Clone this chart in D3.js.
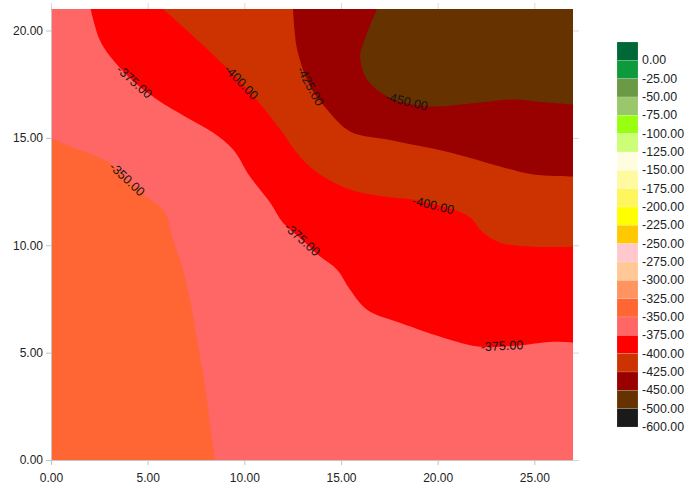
<!DOCTYPE html>
<html>
<head>
<meta charset="utf-8">
<script src="https://cdn.jsdelivr.net/npm/d3@7"></script>
<style>
  body { margin: 0; background: #fff; }
  text { font-family: Arial, "Liberation Sans", sans-serif; }
</style>
</head>
<body>
<svg id="chart" width="692" height="490"></svg>
<script>
// ---- data ----
const xDomain = [0, 27];
const yDomain = [0, 21];
const xTicks = [0, 5, 10, 15, 20, 25];
const yTicks = [0, 5, 10, 15, 20];

// legend: each box is labelled at its lower edge
const legendLevels = [0, -25, -50, -75, -100, -125, -150, -175, -200, -225, -250,
  -275, -300, -325, -350, -375, -400, -425, -450, -500, -600];
const legendColors = ["#006837", "#0c9a3c", "#6a9a46", "#9bc76c", "#99ff11", "#ccff77",
  "#fffde0", "#fffaa0", "#fff55c", "#ffff00", "#ffc800", "#ffc8cc", "#ffc896",
  "#ff9461", "#ff6633", "#ff6666", "#ff0000", "#cc3300", "#990000", "#663300", "#1a1a1a"];

// highest band present in the field (lower bound)
const topBand = -350;

// isolines, each traced from one edge of the field to another
const contourLevels = [-350, -375, -400, -425, -450];
const contour350 = [[0, 15.0], [0.98, 14.6], [2.9, 13.9], [3.98, 13.06], [5.12, 12.13],
  [5.64, 11.8], [6.0, 11.33], [6.31, 10.26], [6.78, 9.0], [7.19, 7.46], [7.55, 5.6],
  [7.92, 3.73], [8.2, 1.85], [8.48, 0]];
const contour375 = [[2.05, 21], [2.5, 19.6], [3.05, 18.8], [4.3, 17.6], [5.48, 16.79],
  [6.93, 16.0], [8.38, 15.25], [9.42, 14.46], [10.29, 13.2], [11.33, 11.99], [12.0, 11.05],
  [12.98, 10.26], [13.92, 9.47], [14.8, 8.86], [15.47, 7.93], [16.35, 7.0], [18.05, 6.39],
  [20.64, 5.6], [22.2, 5.27], [24.0, 5.32], [25.8, 5.5], [27, 5.46]];
const contour400 = [[5.8, 21], [7.7, 19.45], [9.0, 18.33], [9.83, 17.58], [10.7, 16.7],
  [11.85, 15.4], [12.9, 14.1], [13.9, 13.3], [15.47, 12.59], [17.18, 12.27], [18.7, 12.13],
  [20.8, 11.66], [21.68, 11.29], [22.35, 10.59], [23.23, 10.12], [24.94, 9.93], [27, 9.93]];
const contour425 = [[12.52, 21], [12.6, 20], [12.73, 19.12], [13.4, 17.4], [14.28, 16.32],
  [15.47, 15.3], [17.54, 14.9], [20.64, 14.32], [23.23, 13.67], [24.94, 13.29], [27, 13.2]];
const contour450 = [[16.86, 21], [16.14, 19.36], [15.99, 18.8], [16.35, 17.72],
  [17.38, 16.93], [18.4, 16.62], [19.6, 16.46], [22.19, 16.65], [23.9, 16.79],
  [25.66, 16.65], [27, 16.55]];
const contourPoints = [contour350, contour375, contour400, contour425, contour450];

// isoline labels
const labelLevels = [-375, -350, -400, -425, -450, -375, -400, -375];
const labelX = [4.3, 3.93, 9.83, 13.4, 18.4, 12.98, 19.76, 23.33];
const labelY = [17.6, 13.06, 17.58, 17.4, 16.68, 10.26, 11.85, 5.3];

// ---- layout ----
const margin = { left: 51, top: 9, right: 119, bottom: 30 };
const W = 692, H = 490;
const plotW = W - margin.left - margin.right;
const plotH = H - margin.top - margin.bottom;

const svg = d3.select("#chart");
const x = d3.scaleLinear().domain(xDomain).range([margin.left, margin.left + plotW]);
const y = d3.scaleLinear().domain(yDomain).range([margin.top + plotH, margin.top]);
// plain hyphen-minus for negative numbers
const fmt = d3.formatLocale({ decimal: ".", thousands: ",", grouping: [3],
  currency: ["", ""], minus: "-" }).format(".2f");

const colorOfBand = lvl => legendColors[legendLevels.indexOf(lvl)];
const bandBelow = lvl => legendLevels[legendLevels.indexOf(lvl) + 1];

svg.append("defs").append("clipPath").attr("id", "plotClip")
  .append("rect")
  .attr("x", margin.left).attr("y", margin.top)
  .attr("width", plotW).attr("height", plotH);

const plot = svg.append("g").attr("clip-path", "url(#plotClip)");

// base band
plot.append("rect")
  .attr("x", margin.left).attr("y", margin.top)
  .attr("width", plotW).attr("height", plotH)
  .attr("fill", colorOfBand(topBand));

const line = d3.line()
  .x(d => x(d[0])).y(d => y(d[1]))
  .curve(d3.curveCatmullRom.alpha(0.5));

// boundary walk (counter-clockwise) used to close each lower region
const X1 = xDomain[1], Y1 = yDomain[1];
const perim = 2 * X1 + 2 * Y1;
function perimT([px, py]) {
  const e = 1e-6;
  if (py <= yDomain[0] + e) return px;
  if (px >= X1 - e) return X1 + py;
  if (py >= Y1 - e) return X1 + Y1 + (X1 - px);
  return 2 * X1 + Y1 + (Y1 - py);
}
const corners = [[X1, 0, X1], [X1, Y1, X1 + Y1], [0, Y1, 2 * X1 + Y1], [0, 0, perim]];

function regionPath(pts) {
  const tStart0 = perimT(pts[0]);
  const tEnd = perimT(pts[pts.length - 1]);
  const tStart = tStart0 > tEnd ? tStart0 : tStart0 + perim;
  const walk = [];
  [0, perim].forEach(off => {
    corners.forEach(c => {
      const t = c[2] + off;
      if (t > tEnd && t < tStart) walk.push([c[0], c[1], t]);
    });
  });
  walk.sort((a, b) => a[2] - b[2]);
  let d = line(pts);
  walk.forEach(c => { d += "L" + x(c[0]) + "," + y(c[1]); });
  return d + "Z";
}

contourLevels.forEach((lvl, i) => {
  plot.append("path")
    .attr("d", regionPath(contourPoints[i]))
    .attr("fill", colorOfBand(bandBelow(lvl)));
});

// isoline labels, rotated along the tangent of the smoothed line
const probes = svg.append("g").attr("visibility", "hidden");
const probePaths = contourPoints.map(pts => probes.append("path").attr("d", line(pts)).node());

labelLevels.forEach((lvl, k) => {
  const node = probePaths[contourLevels.indexOf(lvl)];
  const px = x(labelX[k]), py = y(labelY[k]);
  const total = node.getTotalLength();
  let bestL = 0, bestD = Infinity;
  for (let s = 0; s <= total; s += 0.5) {
    const p = node.getPointAtLength(s);
    const dd = (p.x - px) ** 2 + (p.y - py) ** 2;
    if (dd < bestD) { bestD = dd; bestL = s; }
  }
  const a = node.getPointAtLength(Math.max(0, bestL - 20));
  const b = node.getPointAtLength(Math.min(total, bestL + 20));
  let ang = Math.atan2(b.y - a.y, b.x - a.x) * 180 / Math.PI;
  if (ang > 90) ang -= 180;
  if (ang < -90) ang += 180;
  plot.append("text")
    .attr("transform", `translate(${px},${py}) rotate(${ang})`)
    .attr("text-anchor", "middle")
    .attr("dominant-baseline", "central")
    .attr("font-size", 12.6)
    .attr("fill", "#141414")
    .text(fmt(lvl));
});

// ---- axes ----
const tickGrey = "#c4c4c4";
function styleAxis(g) {
  g.selectAll(".domain").attr("stroke", tickGrey);
  g.selectAll(".tick line").attr("stroke", tickGrey);
  g.selectAll(".tick text").attr("font-size", 12).attr("fill", "#222")
    .attr("font-family", "Arial, 'Liberation Sans', sans-serif");
}

svg.append("g")
  .attr("transform", `translate(0,${margin.top + plotH})`)
  .call(d3.axisBottom(x).tickValues(xTicks).tickFormat(fmt).tickSize(5).tickPadding(8).tickSizeOuter(0))
  .call(styleAxis);

svg.append("g")
  .attr("transform", `translate(${margin.left},0)`)
  .call(d3.axisLeft(y).tickValues(yTicks).tickFormat(fmt).tickSize(5).tickPadding(3).tickSizeOuter(0))
  .call(styleAxis);

// faint mirrored ticks on top and right
svg.append("g")
  .attr("transform", `translate(0,${margin.top})`)
  .call(d3.axisTop(x).tickValues(xTicks).tickFormat("").tickSize(6).tickSizeOuter(0))
  .call(g => g.select(".domain").remove())
  .call(g => g.selectAll(".tick line").attr("stroke", "#d8d8d8"));

svg.append("g")
  .attr("transform", `translate(${margin.left + plotW},0)`)
  .call(d3.axisRight(y).tickValues(yTicks).tickFormat("").tickSize(6).tickSizeOuter(0))
  .call(g => g.select(".domain").remove())
  .call(g => g.selectAll(".tick line").attr("stroke", "#d8d8d8"));

// ---- legend ----
const legendTop = 42, legendBottom = 427;
const ly = d3.scaleLinear().domain([0, legendLevels.length]).range([legendTop, legendBottom]);
const legend = svg.append("g");

legend.selectAll("rect")
  .data(legendColors)
  .join("rect")
  .attr("x", 617)
  .attr("y", (d, i) => ly(i))
  .attr("width", 21)
  .attr("height", (d, i) => ly(i + 1) - ly(i))
  .attr("fill", d => d)
  .attr("stroke", "rgba(255,255,255,0.25)")
  .attr("stroke-width", 0.6);

legend.selectAll("text")
  .data(legendLevels)
  .join("text")
  .attr("x", 642)
  .attr("y", (d, i) => ly(i + 1))
  .attr("dominant-baseline", "central")
  .attr("font-size", 12.4)
  .attr("fill", "#222")
  .text(d => fmt(d));
</script>
</body>
</html>
